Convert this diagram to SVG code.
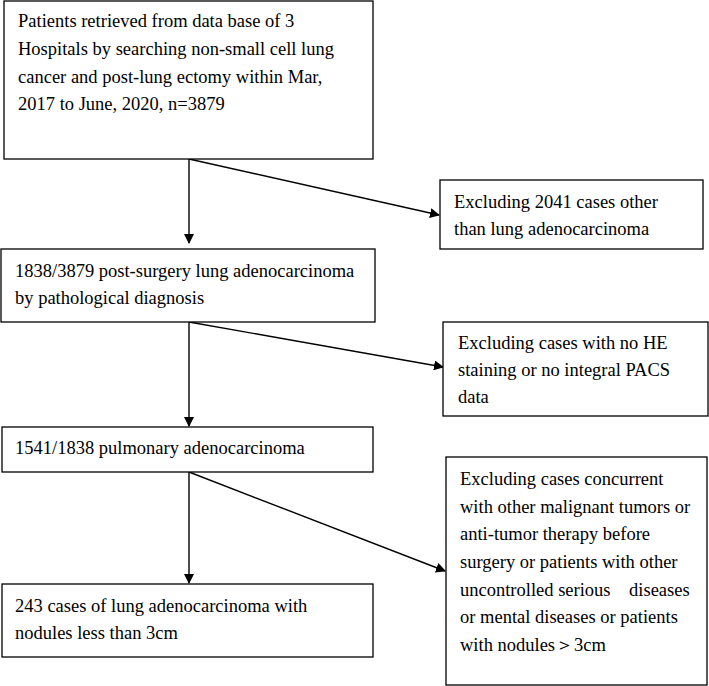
<svg xmlns="http://www.w3.org/2000/svg" width="709" height="686" viewBox="0 0 709 686">
<style>
.b{fill:#fff;stroke:#000;stroke-width:1.3}
text{font-family:"Liberation Serif",serif;font-size:18.5px;fill:#000}
.c line{stroke:#000;stroke-width:1.4;marker-end:url(#a)}
</style>
<defs><marker id="a" viewBox="0 0 10 10" refX="9" refY="5" markerWidth="10" markerHeight="10" markerUnits="userSpaceOnUse" orient="auto"><path d="M0,0L10,5L0,10z"/></marker></defs>
<rect width="709" height="686" fill="#fff"/>
<g class="c">
<line x1="189" y1="159" x2="189" y2="243"/>
<line x1="189" y1="159" x2="439" y2="215"/>
<line x1="189" y1="322" x2="189" y2="426"/>
<line x1="189" y1="322" x2="443" y2="367"/>
<line x1="189" y1="472" x2="189" y2="583"/>
<line x1="189" y1="472" x2="445" y2="571"/>
</g>
<g id="n1"><rect class="b" x="4" y="1" width="369" height="158"/>
<text x="18" y="27">Patients retrieved from data base of 3</text>
<text x="18" y="55">Hospitals by searching non-small cell lung</text>
<text x="18" y="83">cancer and post-lung ectomy within Mar,</text>
<text x="18" y="110">2017 to June, 2020, n=3879</text></g>
<g id="n2"><rect class="b" x="440" y="180" width="263" height="69"/>
<text x="454" y="208">Excluding 2041 cases other</text>
<text x="454" y="235">than lung adenocarcinoma</text></g>
<g id="n3"><rect class="b" x="1" y="249" width="374" height="73"/>
<text x="15" y="277">1838/3879 post-surgery lung adenocarcinoma</text>
<text x="15" y="304">by pathological diagnosis</text></g>
<g id="n4"><rect class="b" x="443" y="322" width="265" height="94"/>
<text x="458" y="349">Excluding cases with no HE</text>
<text x="458" y="376">staining or no integral PACS</text>
<text x="458" y="403">data</text></g>
<g id="n5"><rect class="b" x="2" y="427" width="371" height="45"/>
<text x="15" y="454">1541/1838 pulmonary adenocarcinoma</text></g>
<g id="n6"><rect class="b" x="446" y="457" width="261" height="228"/>
<text x="460" y="485">Excluding cases concurrent</text>
<text x="460" y="513">with other malignant tumors or</text>
<text x="460" y="540">anti-tumor therapy before</text>
<text x="460" y="568">surgery or patients with other</text>
<text x="460" y="596" xml:space="preserve">uncontrolled serious    diseases</text>
<text x="460" y="623">or mental diseases or patients</text>
<text x="460" y="651">with nodules＞3cm</text></g>
<g id="n7"><rect class="b" x="2" y="584" width="371" height="73"/>
<text x="15" y="612">243 cases of lung adenocarcinoma with</text>
<text x="15" y="639">nodules less than 3cm</text></g>
</svg>
